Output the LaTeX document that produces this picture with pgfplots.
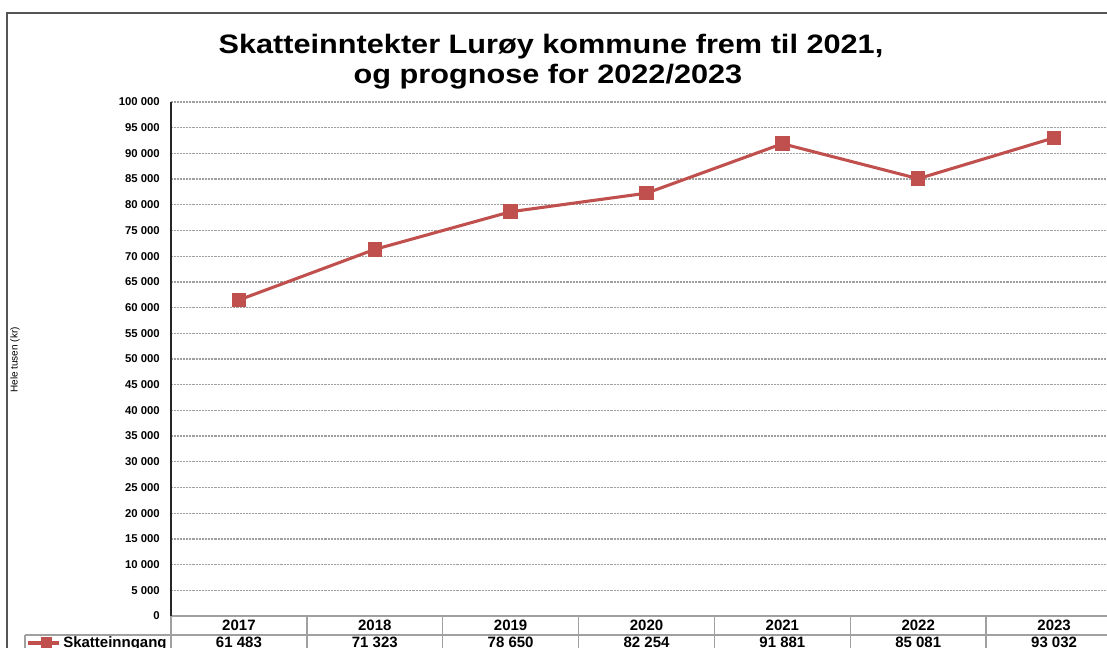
\documentclass[border=0pt]{standalone}
\usepackage{pgfplots}
\pgfplotsset{compat=1.18}
\usepackage{graphicx}
\usepackage{fontspec}
\setmainfont{Liberation Sans}
\definecolor{lurred}{HTML}{C0504D}
\definecolor{tabgray}{HTML}{A0A0A0}
\definecolor{bordergray}{HTML}{555555}
\begin{document}
\begin{tikzpicture}
\useasboundingbox (0,0) rectangle (830.25pt,486pt);
\clip (0,0) rectangle (830.25pt,486pt);
\begin{axis}[
  at={(128.25pt,24pt)}, anchor=south west,
  scale only axis, width=713.25pt, height=385.5pt,
  xmin=-0.5, xmax=6.5, ymin=0, ymax=100000,
  xtick=\empty,
  ytick={0,5000,...,100000},
  yticklabels={0,5 000,10 000,15 000,20 000,25 000,30 000,35 000,40 000,45 000,50 000,55 000,60 000,65 000,70 000,75 000,80 000,85 000,90 000,95 000,100 000},
  scaled y ticks=false,
  axis x line*=bottom, axis y line*=left,
  x axis line style={draw=tabgray, line width=1.1pt},
  y axis line style={draw=black!85, line width=1.1pt},
  major tick length=0pt,
  ymajorgrids,
  major grid style={draw=gray!75, line width=0.95pt, dash pattern=on 0.55pt off 0.55pt},
  yticklabel style={font=\fontsize{8.5}{10}\selectfont\bfseries, inner sep=0pt, xshift=-8.25pt},
]
\addplot[color=lurred, line width=2.3pt, mark=square*, mark size=4.3pt, mark options={solid}]
  coordinates {(0,61483) (1,71323) (2,78650) (3,82254) (4,91881) (5,85081) (6,93032)};
\end{axis}
\begin{scope}[x=0.75pt, y=-0.75pt, yshift=486pt]
  % outer border
  \draw[bordergray, line width=1.5pt] (7,700) -- (7,13) -- (1200,13);
  % title
  \node[anchor=base] at (551,54) {\fontsize{20}{22}\selectfont\bfseries\scalebox{1.15}[1]{Skatteinntekter Lurøy kommune frem til 2021,}};
  \node[anchor=base] at (548,84) {\fontsize{20}{22}\selectfont\bfseries\scalebox{1.15}[1]{og prognose for 2022/2023}};
  % y label
  \node[rotate=90] at (15,360) {\fontsize{7.5}{9}\selectfont Hele tusen (kr)};
  % data table
  \foreach \k in {0,...,7} {
    \draw[tabgray, line width=1.1pt] ({171+135.857*\k},616) -- ({171+135.857*\k},700);
  }
  \draw[tabgray, line width=1.1pt] (25,635) -- (1200,635);
  \draw[tabgray, line width=1.1pt] (25,635) -- (25,700);
  \foreach \y/\v [count=\i from 0] in {2017/61 483,2018/71 323,2019/78 650,2020/82 254,2021/91 881,2022/85 081,2023/93 032} {
    \node[anchor=base, inner sep=0pt] at ({171+67.93*(2*\i+1)},631) {\fontsize{11.25}{13}\selectfont\bfseries \y};
    \node[anchor=base, inner sep=0pt] at ({171+67.93*(2*\i+1)},648) {\fontsize{11.25}{13}\selectfont\bfseries \v};
  }
  \node[anchor=base west, inner sep=0pt] at (63,648) {\fontsize{11.25}{13}\selectfont\bfseries Skatteinngang};
  \draw[lurred, line width=2.3pt] (28,643) -- (59,643);
  \fill[lurred] (40.5,637.3) rectangle (52,648.7);
\end{scope}
\end{tikzpicture}
\end{document}
